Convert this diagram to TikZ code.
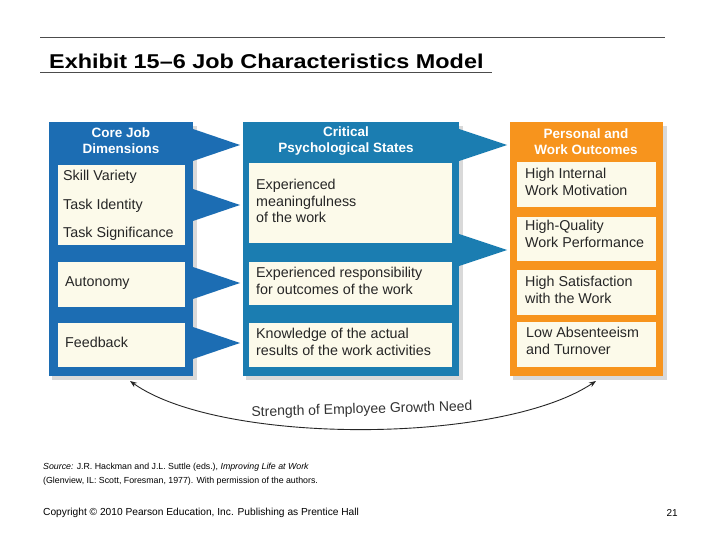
\documentclass[tikz,border=0pt]{standalone}
\usepackage{fontspec}
\setmainfont{Liberation Sans}
\usetikzlibrary{arrows.meta}
\definecolor{lblue}{HTML}{1C6DB3}
\definecolor{mblue}{HTML}{1B7DB1}
\definecolor{orng}{HTML}{F7941D}
\definecolor{cream}{HTML}{FCFAEA}
\tikzset{
 txt/.style={anchor=north west,align=left,font=\fontsize{14.3}{16.5}\selectfont,text=black!85,inner sep=0pt},
 hd/.style={align=center,font=\bfseries\fontsize{13.5}{16}\selectfont,text=white,inner sep=0pt}
}
\begin{document}
\begin{tikzpicture}[x=1pt,y=-1pt]
\useasboundingbox (0,0) rectangle (720,540);
\fill[white] (0,0) rectangle (720,540);
\draw[line width=0.8pt,black!70] (40,37) -- (665,37);
\draw[line width=0.8pt,black!70] (40,72) -- (492,72);
\node[anchor=west,font=\bfseries\fontsize{20}{22}\selectfont,inner sep=0pt,xscale=1.17] (title) at (49,61) {Exhibit 15–6 Job Characteristics Model};
% shadows
\fill[black!15] (52,126) rectangle (197,380);
\fill[black!15] (246,126) rectangle (463,380);
\fill[black!15] (513,126) rectangle (667,380);
% columns
\fill[lblue] (49,122) rectangle (193,376);
\fill[mblue] (243,122) rectangle (459,376);
\fill[orng] (510,122) rectangle (663,376);
% triangles
\foreach \y in {145,205,283,343} \fill[lblue] (193,\y-16) -- (240,\y) -- (193,\y+16) -- cycle;
\foreach \y in {145,250} \fill[mblue] (459,\y-16) -- (507,\y) -- (459,\y+16) -- cycle;
% headers
\node[hd] (h1) at (121,141) {Core Job\\Dimensions};
\node[hd] (h2) at (346,141) {Critical\\Psychological States};
\node[hd] (h3) at (586,142) {Personal and\\Work Outcomes};
% left boxes
\fill[cream] (58,165) rectangle (185,245);
\fill[cream] (58,262) rectangle (185,307);
\fill[cream] (58,323) rectangle (185,367);
\node[txt] (a1) at (63,170) {Skill Variety};
\node[txt] (a2) at (63,199) {Task Identity};
\node[txt] (a3) at (63,227) {Task Significance};
\node[txt] (a4) at (65,276) {Autonomy};
\node[txt] (a5) at (65,337) {Feedback};
% middle boxes
\fill[cream] (249,163) rectangle (452,243);
\fill[cream] (249,262) rectangle (452,305);
\fill[cream] (249,323) rectangle (452,367);
\node[txt] (b1) at (256,179) {Experienced\\meaningfulness\\of the work};
\node[txt] (b2) at (256,267) {Experienced responsibility\\for outcomes of the work};
\node[txt] (b3) at (256,328) {Knowledge of the actual\\results of the work activities};
% right boxes
\fill[cream] (517,162) rectangle (656,207);
\fill[cream] (517,217) rectangle (656,261);
\fill[cream] (517,270) rectangle (656,315);
\fill[cream] (517,322) rectangle (656,367);
\node[txt] (c1) at (525,168) {High Internal\\Work Motivation};
\node[txt] (c2) at (525,220) {High-Quality\\Work Performance};
\node[txt] (c3) at (525,276) {High Satisfaction\\with the Work};
\node[txt] (c4) at (526,327) {Low Absenteeism\\and Turnover};
% arc
\coordinate (p) at (130,381);
\coordinate (q) at (596,381);
\draw[line width=0.9pt,black!85,{Stealth[length=7pt]}-{Stealth[length=7pt]}] (p) .. controls (220,445) and (500,445) .. (q);
\node[font=\fontsize{14}{16}\selectfont,text=black!80,rotate=1.5] (g) at (362,410) {Strength of Employee Growth Need};
% footer
\node[anchor=west,align=left,font=\fontsize{8.8}{14}\selectfont,inner sep=0pt] (src) at (43,474) {\textit{Source:} J.R. Hackman and J.L. Suttle (eds.), \textit{Improving Life at Work}\\(Glenview, IL: Scott, Foresman, 1977). With permission of the authors.};
\node[anchor=west,font=\fontsize{10.2}{11}\selectfont,inner sep=0pt] (cp) at (43,513) {Copyright © 2010 Pearson Education, Inc. Publishing as Prentice Hall};
\node[anchor=east,font=\fontsize{10}{11}\selectfont,inner sep=0pt] (pg) at (678,513) {21};
\end{tikzpicture}
\end{document}
